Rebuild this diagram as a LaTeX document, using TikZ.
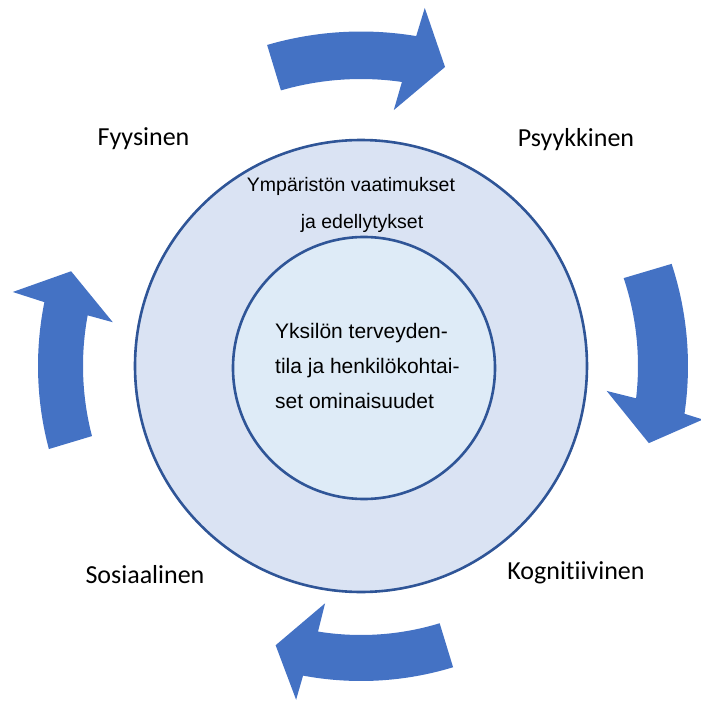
\documentclass[tikz,border=0pt]{standalone}
\usepackage{fontspec}
\setmainfont[Ligatures=NoCommon]{Carlito}
\newfontfamily\arialf{Liberation Sans}
\definecolor{outerfill}{HTML}{DAE3F3}
\definecolor{innerfill}{HTML}{DEEBF7}
\definecolor{ringline}{HTML}{2F5597}
\definecolor{arrowblue}{HTML}{4472C4}
\begin{document}
\begin{tikzpicture}[x=1pt,y=1pt,
  ring/.style={draw=ringline, line width=2.6pt},
  blockarrow/.style={fill=arrowblue, draw=none},
  dimlabel/.style={font=\fontsize{26}{30}\selectfont, inner sep=0pt},
  ringtext/.style={font=\arialf\fontsize{19.5}{24}\selectfont, inner sep=0pt},
  coretext/.style={font=\arialf\fontsize{21}{35}\selectfont, inner sep=0pt, align=left, anchor=west}]
\useasboundingbox (-361,-336) rectangle (340,366);
% circles
\node[ring, fill=outerfill, circle, minimum size=452pt, inner sep=0pt] (outer) at (0,0) {};
\node[ring, fill=innerfill, circle, minimum size=262pt, inner sep=0pt] (inner) at (3,-2) {};
% ring texts
\node[ringtext] (env1) at (-10,180) {Ympäristön vaatimukset};
\node[ringtext] (env2) at (1,143) {ja edellytykset};
\node[coretext] (core) at (-86,0) {Yksilön terveyden-\\tila ja henkilökohtai-\\set ominaisuudet};
% labels
\node[dimlabel] (fyys) at (-217.5,227) {Fyysinen};
\node[dimlabel] (psyk) at (215,226) {Psyykkinen};
\node[dimlabel] (sos) at (-216,-209) {Sosiaalinen};
\node[dimlabel] (kog) at (215,-207) {Kognitiivinen};
% top arrow
\fill[blockarrow] (106.3:334.5) arc[start angle=106.3, end angle=80.5, radius=334.5]
  -- (79.9:363.7) -- (74.3:310.6) -- (82.7:258) -- (81.8:287)
  arc[start angle=81.8, end angle=106.2, radius=287] -- cycle;
% right arrow
\fill[blockarrow] (18.2:327) arc[start angle=18.2, end angle=-8.4, radius=327]
  -- (-8.9:346) -- (-15:298) -- (-5.8:247) -- (-6.7:277)
  arc[start angle=-6.7, end angle=18.5, radius=277] -- cycle;
% bottom arrow
\fill[blockarrow] (-73:315) arc[start angle=-73, end angle=-100.6, radius=315]
  -- (-101:340) -- (-107:292) -- (-98.6:240) -- (-99.2:269)
  arc[start angle=-99.2, end angle=-73, radius=269] -- cycle;
% left arrow
\fill[blockarrow] (194.9:323) arc[start angle=194.9, end angle=168.6, radius=323]
  -- (168:356) -- (161.9:305) -- (170:252) -- (169.5:278)
  arc[start angle=169.5, end angle=194.6, radius=278] -- cycle;
\end{tikzpicture}
\end{document}
